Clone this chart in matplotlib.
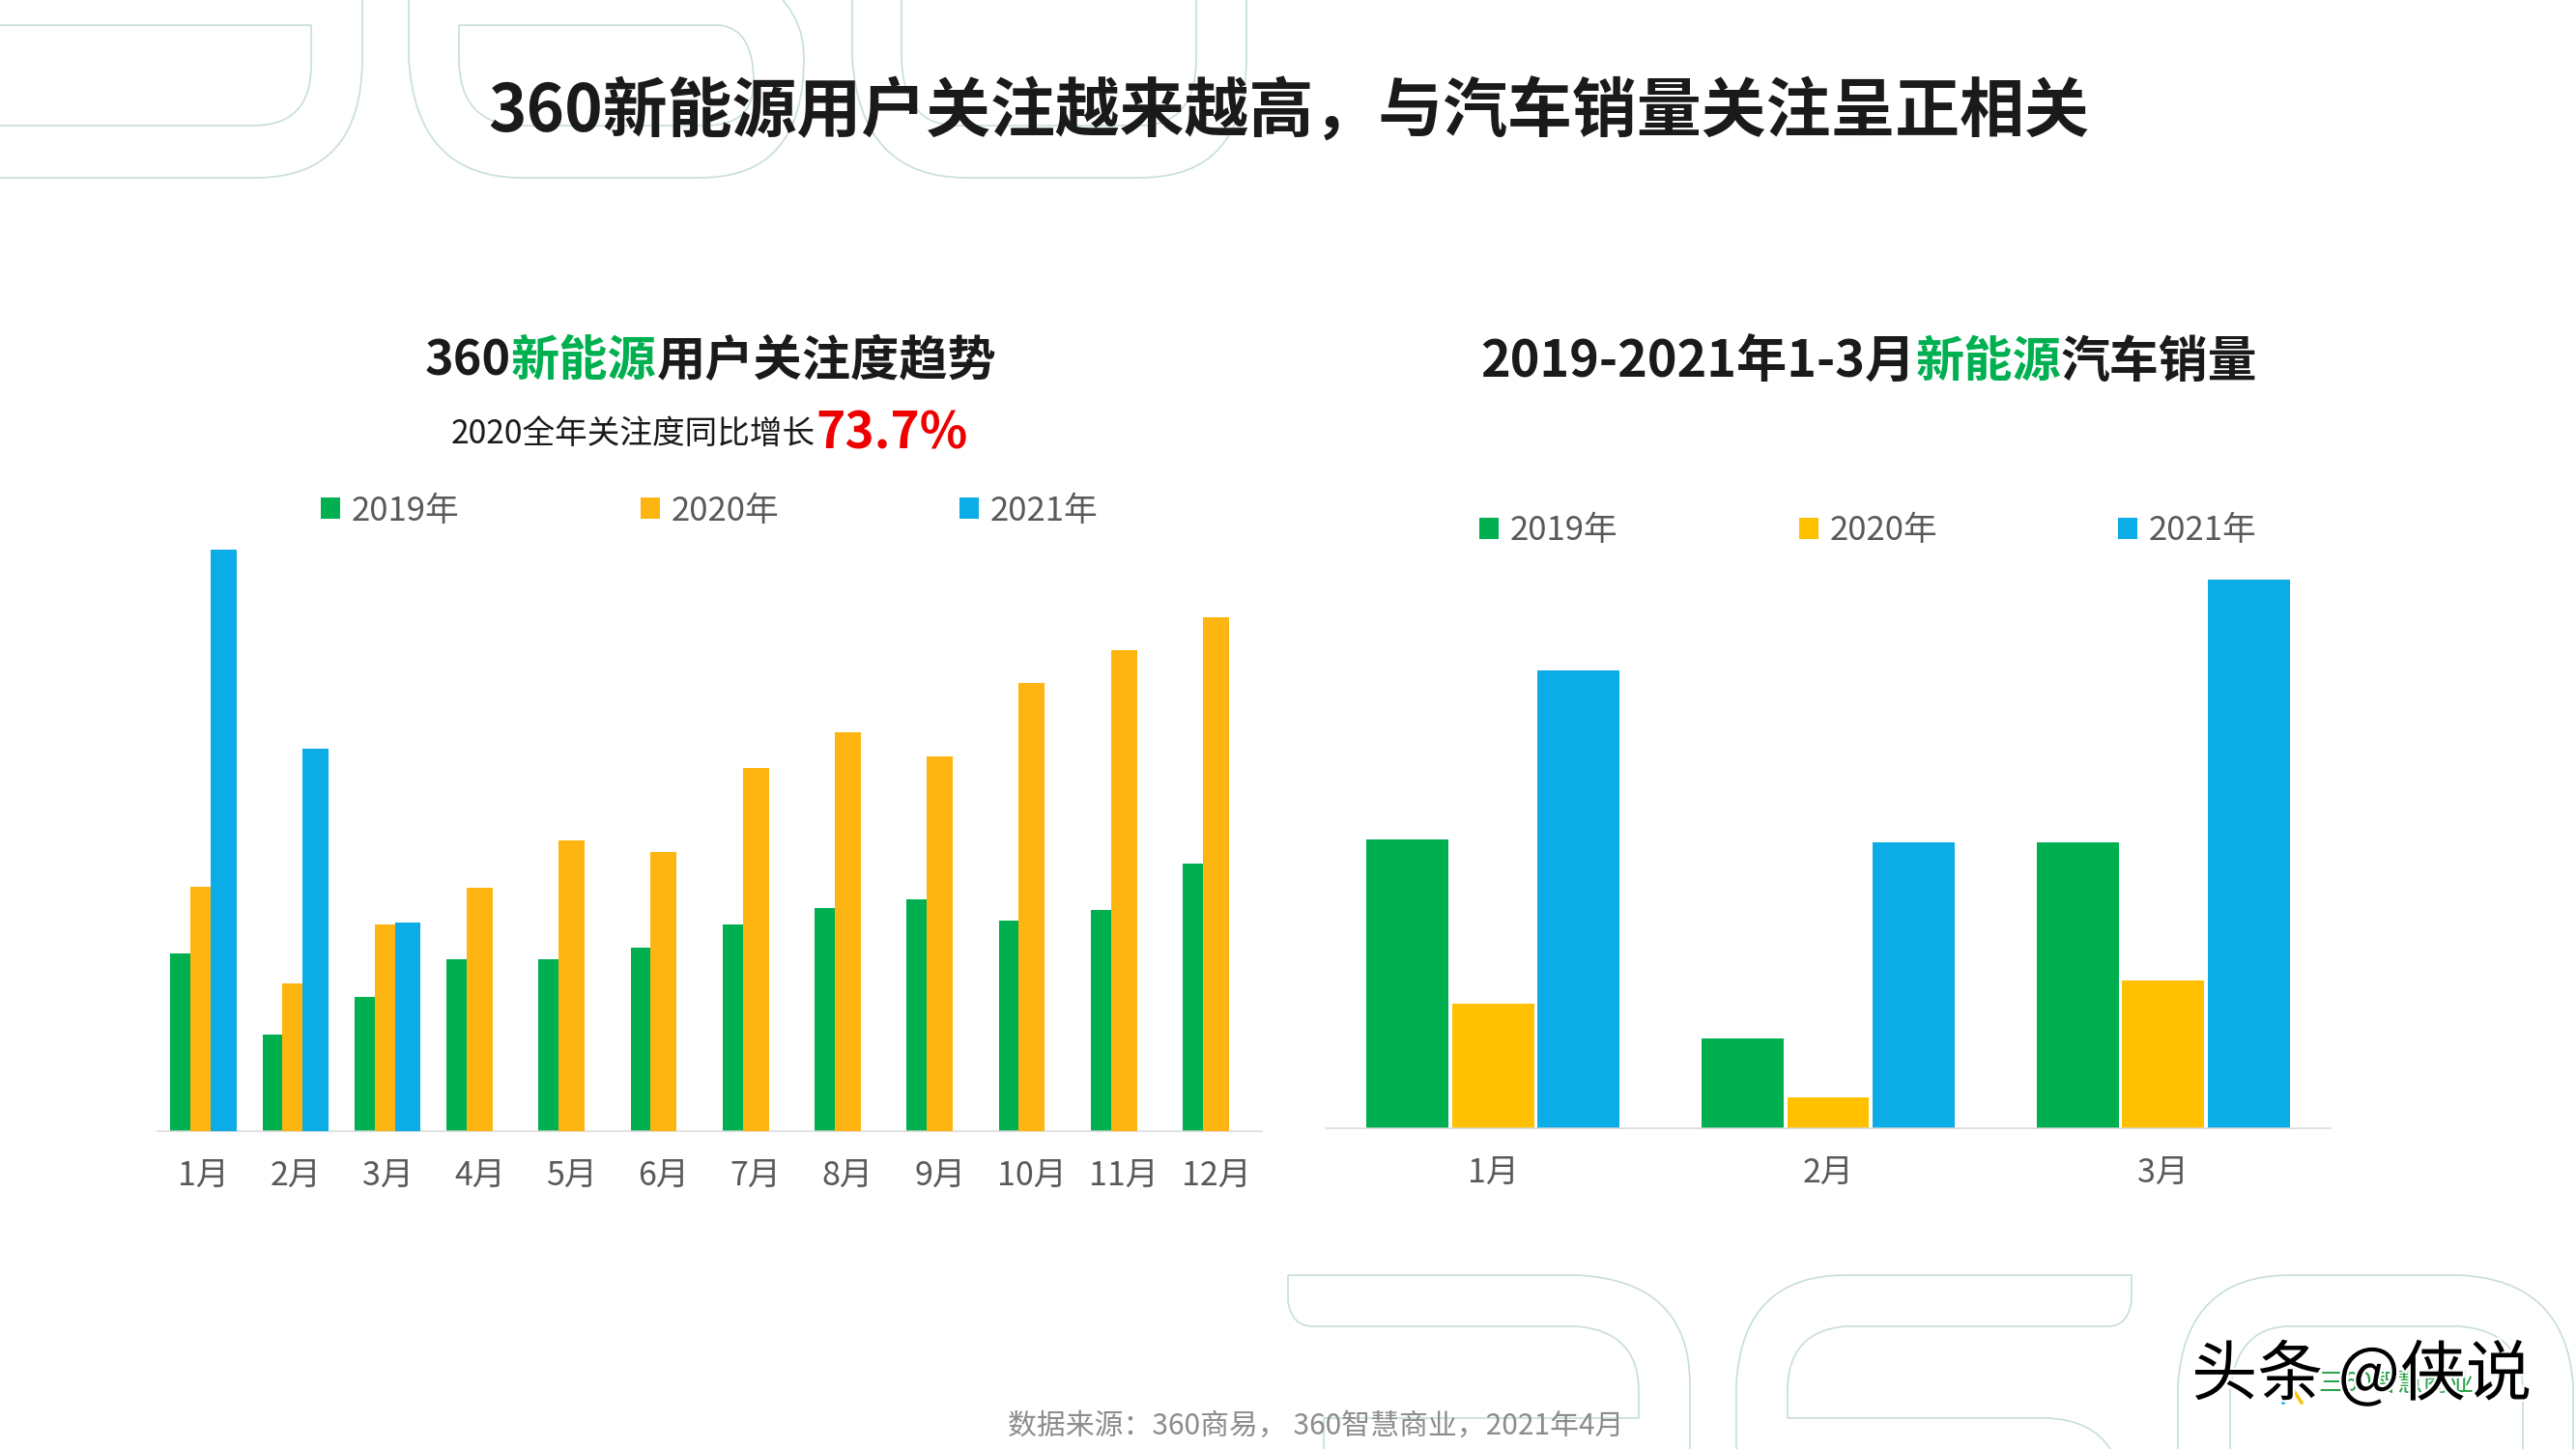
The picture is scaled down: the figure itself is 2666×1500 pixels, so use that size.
import matplotlib
matplotlib.use('Agg')
import matplotlib.pyplot as plt
import matplotlib.patheffects as pe
import numpy as np
from matplotlib.path import Path
from matplotlib.patches import PathPatch

plt.rcParams['font.family'] = ['Noto Sans CJK SC', 'DejaVu Sans']

W, H = 2666, 1500

# left chart
months = ['1月', '2月', '3月', '4月', '5月', '6月', '7月', '8月', '9月', '10月', '11月', '12月']
attn_2019 = [108, 59, 82, 105, 105, 112, 126, 136, 141, 128, 135, 163]
attn_2020 = [149, 90, 126, 148, 177, 170, 221, 243, 228, 273, 293, 313]
attn_2021 = [354, 233, 127]

# right chart
q1_months = ['1月', '2月', '3月']
sales_2019 = [176, 55, 174]
sales_2020 = [76, 19, 90]
sales_2021 = [279, 174, 334]

years = ['2019年', '2020年', '2021年']
GREEN = '#00B050'
ORANGE_L = '#FFB511'
ORANGE_R = '#FFC000'
BLUE = '#0CACE6'
GREY = '#595959'
DARK = '#1a1a1a'
LINE = '#c8dfd6'

# background digit outlines, page pixels: M start, L line, Q control+end
outlines = [
    [('M', 0, 26), ('L', 322, 26), ('L', 322, 68), ('Q', 322, 130, 262, 130), ('L', 0, 130)],
    [('M', 375, 0), ('L', 375, 60), ('Q', 375, 184, 265, 184), ('L', 0, 184)],
    [('M', 423, 0), ('L', 423, 60), ('Q', 430, 184, 540, 184), ('L', 725, 184), ('Q', 832, 184, 832, 60), ('Q', 832, 25, 810, 0)],
    [('M', 475, 26), ('L', 745, 26), ('Q', 780, 30, 780, 85), ('Q', 780, 130, 730, 130), ('L', 540, 130), ('Q', 475, 130, 475, 60), ('L', 475, 26)],
    [('M', 882, 0), ('L', 882, 60), ('Q', 890, 184, 1000, 184), ('L', 1180, 184), ('Q', 1290, 184, 1290, 60), ('L', 1290, 0)],
    [('M', 933, 0), ('L', 933, 60), ('Q', 935, 130, 990, 130), ('L', 1180, 130), ('Q', 1238, 130, 1238, 60), ('L', 1238, 0)],
    [('M', 1333, 1320), ('L', 1631, 1320), ('Q', 1749, 1325, 1749, 1433), ('L', 1749, 1500)],
    [('M', 1333, 1320), ('L', 1333, 1347), ('Q', 1337, 1373, 1358, 1373), ('L', 1631, 1373), ('Q', 1696, 1378, 1696, 1440), ('L', 1696, 1468), ('L', 1370, 1468), ('L', 1370, 1500)],
    [('M', 1797, 1500), ('L', 1797, 1433), ('Q', 1803, 1320, 1910, 1320), ('L', 2206, 1320), ('L', 2206, 1347), ('Q', 2202, 1373, 2182, 1373), ('L', 1910, 1373), ('Q', 1850, 1378, 1850, 1440), ('L', 1850, 1468), ('L', 2119, 1468), ('Q', 2165, 1470, 2184, 1500)],
    [('M', 2254, 1500), ('L', 2254, 1433), ('Q', 2262, 1320, 2370, 1320), ('L', 2545, 1320), ('Q', 2655, 1325, 2663, 1433), ('L', 2663, 1500)],
    [('M', 2308, 1500), ('L', 2308, 1440), ('Q', 2315, 1373, 2370, 1373), ('L', 2545, 1373), ('Q', 2611, 1378, 2611, 1440), ('L', 2611, 1500)],
]


def outline_path(cmds):
    verts, codes = [], []
    for c in cmds:
        if c[0] == 'M':
            verts.append(c[1:3]); codes.append(Path.MOVETO)
        elif c[0] == 'L':
            verts.append(c[1:3]); codes.append(Path.LINETO)
        else:
            verts += [c[1:3], c[3:5]]; codes += [Path.CURVE3, Path.CURVE3]
    return Path(verts, codes)


def px_axes(fig, x0, y0, x1, y1):
    # pixel box with y from the top of the page
    return fig.add_axes([x0 / W, 1 - y1 / H, (x1 - x0) / W, (y1 - y0) / H], facecolor='none')


def colored_text(ax, x, y, parts, **kw):
    # parts drawn one after the other, starting at page pixel x
    r = ax.figure.canvas.get_renderer()
    for s, color, size, weight in parts:
        t = ax.text(x, y, s, color=color, fontsize=size, fontweight=weight, va='center', ha='left', **kw)
        x += t.get_window_extent(r).width


def style_axis(ax, labels, xs):
    for name in ['top', 'left', 'right']:
        ax.spines[name].set_visible(False)
    ax.spines['bottom'].set_color('#d9d9d9')
    ax.spines['bottom'].set_linewidth(1.1)
    ax.set_yticks([])
    ax.set_xticks(xs)
    ax.set_xticklabels(labels, fontsize=24.5, color=GREY)
    ax.tick_params(axis='x', length=0, pad=21)


def year_legend(ax, handles, x, y):
    ax.legend(handles, years, loc='center left', bbox_to_anchor=(x / W, 1 - y / H),
              bbox_transform=ax.figure.transFigure, ncol=3, frameon=False, fontsize=25,
              labelcolor=GREY, handlelength=0.58, handleheight=0.58, handletextpad=0.34,
              columnspacing=5.38, borderpad=0, borderaxespad=0)


fig = plt.figure(figsize=(W / 100, H / 100), dpi=100, facecolor='white')
page = fig.add_axes([0, 0, 1, 1])
page.set_xlim(0, W)
page.set_ylim(H, 0)
page.axis('off')

for cmds in outlines:
    page.add_patch(PathPatch(outline_path(cmds), fill=False, edgecolor=LINE, linewidth=1.2))

page.text(1334, 117, '360新能源用户关注越来越高，与汽车销量关注呈正相关', color=DARK, fontsize=48.2,
          fontweight='bold', ha='center', va='center')
colored_text(page, 440, 374, [('360', DARK, 36.2, 'bold'), ('新能源', GREEN, 36.2, 'bold'),
                              ('用户关注度趋势', DARK, 36.2, 'bold')])
colored_text(page, 1532, 375, [('2019-2021年1-3月', DARK, 37.6, 'bold'), ('新能源', GREEN, 36.2, 'bold'),
                               ('汽车销量', DARK, 36.6, 'bold')])
colored_text(page, 467, 449, [('2020全年关注度同比增长', DARK, 24.2, 'normal'), ('73.7%', '#EE0000', 37, 'bold')])

page.text(1362, 1476, '数据来源：360商易， 360智慧商业，2021年4月', color='#8c8c8c', fontsize=21.5,
          ha='center', va='center')
page.text(2480, 1433, '三60智慧商业', color='#2ca24c', fontsize=19, ha='center', va='center')
page.plot([2361, 2363], [1446, 1452], color='#0CACE6', lw=2.5)
page.plot([2374, 2382], [1440, 1452], color='#FFC000', lw=2.5)
page.text(2444, 1425, '头条 @侠说', color='black', fontsize=49, ha='center', va='center',
          path_effects=[pe.withStroke(linewidth=3.5, foreground='white')])

# left chart, bars overlap a little and later years sit on top
ax1 = px_axes(fig, 163, 559, 1306, 1171)
ax1.set_xlim(-0.5, 11.5)
ax1.set_ylim(0, 360)
x1 = np.arange(len(months))
bw, step = 0.282, 0.219
b1 = ax1.bar(x1 - step, attn_2019, bw, color=GREEN, zorder=2)
b2 = ax1.bar(x1, attn_2020, bw, color=ORANGE_L, zorder=3)
b3 = ax1.bar(x1[:3] + step, attn_2021, bw, color=BLUE, zorder=4)
style_axis(ax1, months, x1)
year_legend(ax1, [b1, b2, b3], 332, 529)

# right chart
ax2 = px_axes(fig, 1372, 590, 2412, 1168)
ax2.set_xlim(-0.5, 2.5)
ax2.set_ylim(0, 340)
x2 = np.arange(len(q1_months))
bw2, step2 = 0.245, 0.255
b4 = ax2.bar(x2 - step2, sales_2019, bw2, color=GREEN)
b5 = ax2.bar(x2, sales_2020, bw2, color=ORANGE_R)
b6 = ax2.bar(x2 + step2, sales_2021, bw2, color=BLUE)
style_axis(ax2, q1_months, x2)
year_legend(ax2, [b4, b5, b6], 1531, 550)

fig.savefig('out.png', dpi=100)
